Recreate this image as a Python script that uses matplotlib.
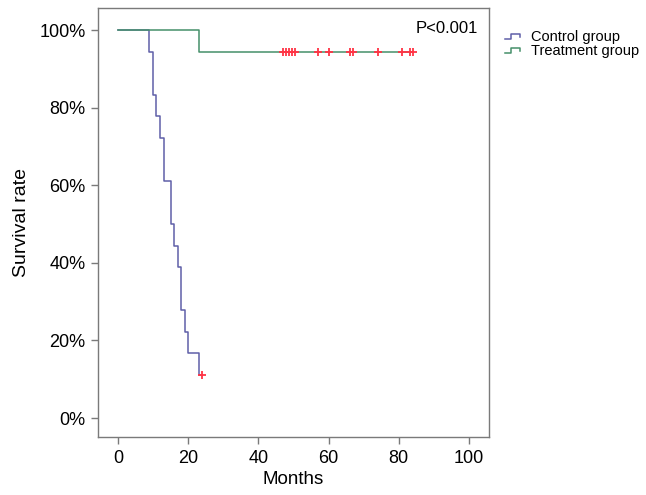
import matplotlib
matplotlib.use("Agg")
import matplotlib.pyplot as plt
from matplotlib.legend_handler import HandlerBase
from matplotlib.lines import Line2D

plt.rcParams['font.family'] = ['Liberation Sans', 'DejaVu Sans']

# Data
ctrl_times = [0, 9, 10, 11, 12, 13, 15, 16, 17, 18, 19, 20, 23, 24]
ctrl_surv = [1.0, 0.944, 0.833, 0.778, 0.722, 0.611, 0.5, 0.444, 0.389, 0.278, 0.222, 0.167, 0.111, 0.111]
ctrl_cens_t = [24]
ctrl_cens_s = [0.111]

trt_times = [0, 23, 84]
trt_surv = [1.0, 0.944, 0.944]
trt_cens_t = [47, 47.8, 48.6, 49.5, 50.4, 57, 60, 66, 67, 74, 81, 83.2, 84]
trt_cens_s = [0.944] * len(trt_cens_t)

xticks = [0, 20, 40, 60, 80, 100]
yticks = [0, 0.2, 0.4, 0.6, 0.8, 1.0]
ytick_labels = ['0%', '20%', '40%', '60%', '80%', '100%']

ctrl_color = '#5f5fa8'
trt_color = '#45906a'
cens_color = '#ff3344'
spine_color = '#7a7a7a'

fig = plt.figure(figsize=(6.46, 4.95), dpi=100)
ax = fig.add_axes([0.152, 0.117, 0.605, 0.867])

ax.step(ctrl_times, ctrl_surv, where='post', color=ctrl_color, lw=1.1)
ax.step(trt_times, trt_surv, where='post', color=trt_color, lw=1.1)
ax.plot(ctrl_cens_t, ctrl_cens_s, linestyle='none', marker='+', color=cens_color, ms=5.5, mew=1.3)
ax.plot(trt_cens_t, trt_cens_s, linestyle='none', marker='+', color=cens_color, ms=5.5, mew=1.3)

ax.set_xlim(-5.6, 105.7)
ax.set_ylim(-0.049, 1.057)
ax.set_xticks(xticks)
ax.set_xticklabels([str(t) for t in xticks])
ax.set_yticks(yticks)
ax.set_yticklabels(ytick_labels)
ax.tick_params(direction='out', length=5, width=1, color=spine_color, labelsize=13, pad=4)
for s in ax.spines.values():
    s.set_color(spine_color)
    s.set_linewidth(1.0)

ax.set_xlabel('Months', fontsize=13.5, labelpad=3.5)
ax.set_ylabel('Survival rate', fontsize=14, labelpad=7)

ax.text(84.7, 1.005, 'P<0.001', fontsize=12, ha='left', va='center')


class StepHandler(HandlerBase):
    def create_artists(self, legend, orig_handle, xdescent, ydescent, width, height, fontsize, trans):
        x0 = -xdescent
        y0 = -ydescent
        xs = [x0, x0 + 0.45 * width, x0 + 0.45 * width, x0 + 0.98 * width, x0 + 0.98 * width]
        ys = [y0 + 0.2 * height, y0 + 0.2 * height, y0 + 0.7 * height, y0 + 0.7 * height, y0 + 0.4 * height]
        ln = Line2D(xs, ys, color=orig_handle.get_color(), lw=1.1)
        ln.set_transform(trans)
        return [ln]


h1 = Line2D([], [], color=ctrl_color)
h2 = Line2D([], [], color=trt_color)
fig.legend([h1, h2], ['Control group', 'Treatment group'],
           handler_map={Line2D: StepHandler()},
           loc='upper left', bbox_to_anchor=(0.781, 0.939),
           frameon=False, fontsize=10.5, handlelength=1.05, handletextpad=0.75,
           labelspacing=0.0, borderpad=0, borderaxespad=0)

fig.savefig('out.png', dpi=100)
